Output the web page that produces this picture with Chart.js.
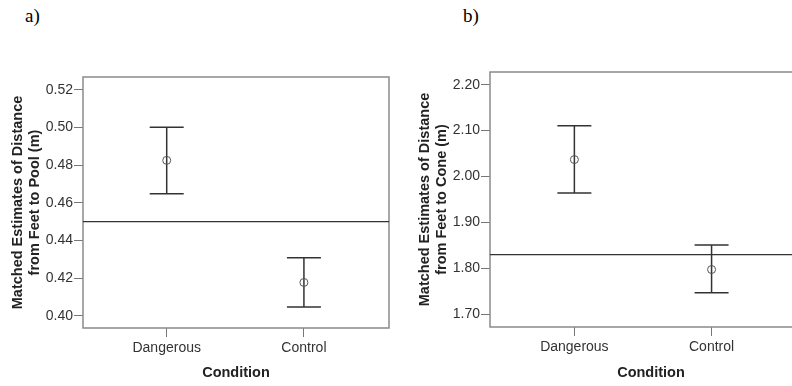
<!DOCTYPE html>
<html>
<head>
<meta charset="utf-8">
<script src="https://cdn.jsdelivr.net/npm/chart.js@4"></script>
<style>
  body { margin: 0; width: 792px; height: 386px; overflow: hidden; background: #fff; position: relative; }
  .box { position: absolute; top: 0; height: 386px; }
  .lab { position: absolute; font-family: "Liberation Serif"; font-size: 19px; color: #000; }
</style>
</head>
<body>
<div class="lab" style="left:25px;top:5px">a)</div>
<div class="lab" style="left:463px;top:5px">b)</div>
<div class="box" style="left:0;width:396px"><canvas id="pool-chart"></canvas></div>
<div class="box" style="left:407px;width:410px"><canvas id="cone-chart"></canvas></div>
<script>
const categories = ['Dangerous', 'Control'];

// a) feet to pool
const poolMeans = [0.4826, 0.4177];
const poolLower = [0.4649, 0.4046];
const poolUpper = [0.5002, 0.4308];
const poolRef = 0.450;
const poolTicks = [0.40, 0.42, 0.44, 0.46, 0.48, 0.50, 0.52];

// b) feet to cone
const coneMeans = [2.037, 1.7975];
const coneLower = [1.964, 1.7467];
const coneUpper = [2.1105, 1.851];
const coneRef = 1.83;
const coneTicks = [1.70, 1.80, 1.90, 2.00, 2.10, 2.20];

function makeChart(id, cfg) {
  const bars = {
    id: 'bars',
    beforeDatasetsDraw(chart) {
      const { ctx, chartArea: a, scales: { x, y } } = chart;
      ctx.save();
      // frame
      ctx.strokeStyle = '#8a8a8a';
      ctx.lineWidth = 1.5;
      ctx.strokeRect(a.left, a.top, a.right - a.left, a.bottom - a.top);
      // reference line
      ctx.strokeStyle = '#333';
      ctx.lineWidth = 1.2;
      const ry = y.getPixelForValue(cfg.ref);
      ctx.beginPath();
      ctx.moveTo(a.left, ry);
      ctx.lineTo(a.right, ry);
      ctx.stroke();
      // error bars
      ctx.lineWidth = 1.5;
      cfg.lower.forEach((lo, i) => {
        const px = x.getPixelForValue(i);
        const y1 = y.getPixelForValue(lo);
        const y2 = y.getPixelForValue(cfg.upper[i]);
        ctx.beginPath();
        ctx.moveTo(px, y1); ctx.lineTo(px, y2);
        ctx.moveTo(px - 17, y1); ctx.lineTo(px + 17, y1);
        ctx.moveTo(px - 17, y2); ctx.lineTo(px + 17, y2);
        ctx.stroke();
      });
      ctx.restore();
    }
  };

  new Chart(document.getElementById(id), {
    type: 'scatter',
    data: {
      datasets: [{
        data: cfg.means.map((m, i) => ({ x: i, y: m })),
        pointStyle: 'circle',
        pointRadius: 4,
        backgroundColor: 'rgba(0,0,0,0)',
        borderColor: '#555',
        borderWidth: 1
      }]
    },
    options: {
      responsive: true,
      maintainAspectRatio: false,
      animation: false,
      layout: { padding: { left: 10, top: cfg.top, right: cfg.right, bottom: 4.6 } },
      scales: {
        x: {
          type: 'linear',
          min: cfg.xmin,
          max: cfg.xmax,
          afterBuildTicks: s => { s.ticks = [{ value: 0 }, { value: 1 }]; },
          afterFit: s => { s.height = 386 - 4.6 - cfg.bottom; },
          ticks: {
            callback: v => categories[v],
            font: { family: 'Liberation Sans', size: 14 },
            color: '#333',
            padding: 2.6,
            maxRotation: 0
          },
          grid: { drawOnChartArea: false, tickLength: 9, color: '#777' },
          border: { display: false },
          title: {
            display: true,
            text: 'Condition',
            font: { family: 'Liberation Sans', size: 14.5, weight: 'bold' },
            color: '#222',
            padding: 0
          }
        },
        y: {
          min: cfg.ymin,
          max: cfg.ymax,
          afterBuildTicks: s => { s.ticks = cfg.ticks.map(v => ({ value: v })); },
          afterFit: s => { s.width = 73; },
          ticks: {
            callback: v => v.toFixed(2),
            font: { family: 'Liberation Sans', size: 14 },
            color: '#333',
            padding: 1
          },
          grid: { drawOnChartArea: false, tickLength: 9, color: '#777' },
          border: { display: false },
          title: {
            display: true,
            text: cfg.title,
            font: { family: 'Liberation Sans', size: 14.5, weight: 'bold', lineHeight: 1.17 },
            color: '#222',
            padding: 0
          }
        }
      },
      plugins: { legend: { display: false }, tooltip: { enabled: false } }
    },
    plugins: [bars]
  });
}

makeChart('pool-chart', {
  means: poolMeans, lower: poolLower, upper: poolUpper, ref: poolRef, ticks: poolTicks,
  ymin: 0.3935, ymax: 0.5269, xmin: -0.61, xmax: 1.62,
  top: 77, bottom: 328, right: 7,
  title: ['Matched Estimates of Distance', 'from Feet to Pool (m)']
});

makeChart('cone-chart', {
  means: coneMeans, lower: coneLower, upper: coneUpper, ref: coneRef, ticks: coneTicks,
  ymin: 1.6723, ymax: 2.2277, xmin: -0.615, xmax: 1.732,
  top: 72, bottom: 327, right: 0,
  title: ['Matched Estimates of Distance', 'from Feet to Cone (m)']
});
</script>
</body>
</html>
